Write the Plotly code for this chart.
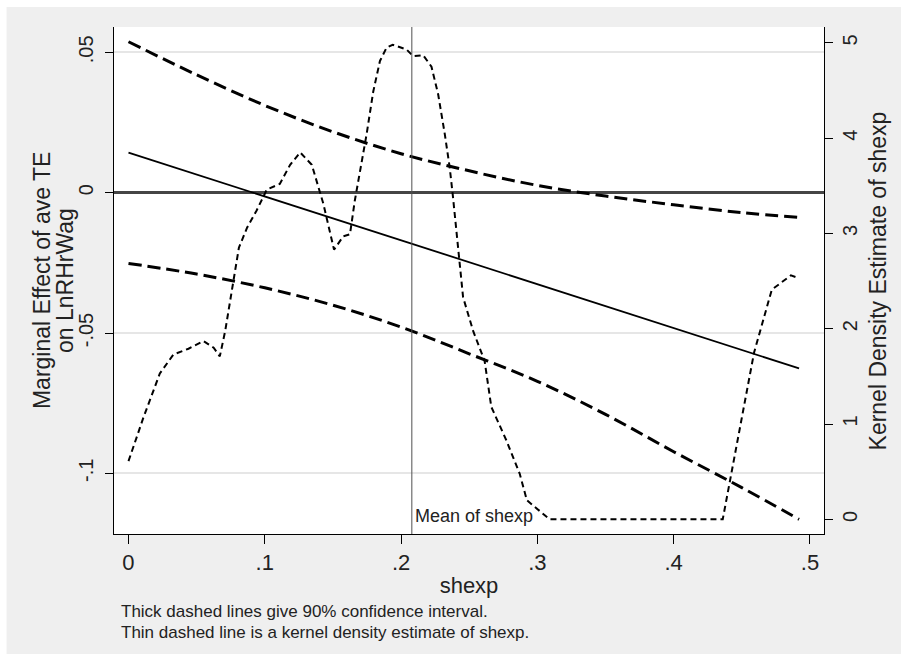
import plotly.graph_objects as go

# ---- data ----
ci_x = [0, 0.05, 0.10, 0.15, 0.20, 0.25, 0.30, 0.35, 0.40, 0.45, 0.492]
ci_upper = [0.0538, 0.0420, 0.0311, 0.0217, 0.0139, 0.0078, 0.0026, -0.0012, -0.0043, -0.0071, -0.0088]
ci_lower = [-0.0252, -0.0290, -0.0339, -0.0401, -0.0479, -0.0574, -0.0672, -0.0790, -0.0923, -0.1051, -0.1164]

me_x = [0, 0.492]
me_y = [0.0143, -0.0626]

dens_x = [0.000, 0.011, 0.023, 0.033, 0.044, 0.055, 0.0625, 0.067, 0.071, 0.076,
          0.081, 0.087, 0.094, 0.1015, 0.111, 0.1186, 0.126, 0.1345, 0.143, 0.1508,
          0.1576, 0.1625, 0.166, 0.1747, 0.1796, 0.1845, 0.1894, 0.1938, 0.204, 0.2089,
          0.2162, 0.2223, 0.2272, 0.2321, 0.2357, 0.2381, 0.243, 0.2455, 0.2528, 0.2613,
          0.2662, 0.2772, 0.287, 0.2923, 0.309, 0.436, 0.459, 0.472, 0.486, 0.492]
dens_y = [0.61, 1.07, 1.53, 1.73, 1.79, 1.87, 1.80, 1.71, 1.98, 2.43,
          2.85, 3.06, 3.24, 3.46, 3.52, 3.72, 3.85, 3.72, 3.31, 2.83,
          2.97, 2.99, 3.34, 4.04, 4.49, 4.81, 4.95, 4.98, 4.93, 4.86,
          4.87, 4.75, 4.46, 4.04, 3.69, 3.38, 2.71, 2.33, 1.98, 1.66,
          1.18, 0.83, 0.48, 0.20, 0.0, 0.0, 1.75, 2.41, 2.56, 2.53]

mean_shexp = 0.2079

x_ticks = [0, 0.1, 0.2, 0.3, 0.4, 0.5]
x_ticktext = ["0", ".1", ".2", ".3", ".4", ".5"]
y_ticks = [-0.1, -0.05, 0, 0.05]
y_ticktext = ["-.1", "-.05", "0", ".05"]
y2_ticks = [0, 1, 2, 3, 4, 5]
y2_ticktext = ["0", "1", "2", "3", "4", "5"]

left_title = ["Marginal Effect of ave TE", "on LnRHrWag"]
right_title = "Kernel Density Estimate of shexp"
notes = ["Thick dashed lines give 90% confidence interval.",
         "Thin dashed line is a kernel density estimate of shexp."]

FONT = "Liberation Sans, Arial, sans-serif"

# plot area in pixels: x 113.5..824, y 27..534
PL, PR, PT, PB = 113.5, 824.0, 27.0, 534.0
def px_x(p):
    return (p - PL) / (PR - PL)
def px_y(p):
    return (PB - p) / (PB - PT)

fig = go.Figure()
fig.add_trace(go.Scatter(x=ci_x, y=ci_upper, mode="lines", line=dict(color="black", width=3, dash="13px,6px", shape="spline"), showlegend=False))
fig.add_trace(go.Scatter(x=ci_x, y=ci_lower, mode="lines", line=dict(color="black", width=3, dash="13px,6px", shape="spline"), showlegend=False))
fig.add_trace(go.Scatter(x=me_x, y=me_y, mode="lines", line=dict(color="black", width=1.8), showlegend=False))
fig.add_trace(go.Scatter(x=dens_x, y=dens_y, mode="lines", yaxis="y2", line=dict(color="black", width=2, dash="6px,4px"), showlegend=False))

fig.add_shape(type="line", xref="x", yref="paper", x0=mean_shexp, x1=mean_shexp, y0=0, y1=1,
              line=dict(color="#505050", width=1))
# white strips at top/left edges of the page
fig.add_shape(type="rect", xref="paper", yref="paper", x0=-0.3, x1=1.3, y0=px_y(7), y1=1.2,
              line=dict(width=0), fillcolor="white", layer="below")
fig.add_shape(type="rect", xref="paper", yref="paper", x0=-0.3, x1=px_x(6), y0=-0.4, y1=1.2,
              line=dict(width=0), fillcolor="white", layer="below")

fig.add_annotation(x=mean_shexp, y=0.012, xref="x", yref="paper", text="Mean of shexp", showarrow=False,
                   xanchor="left", yanchor="bottom", xshift=1, font=dict(size=18, color="#222"))
fig.add_annotation(x=px_x(119), y=px_y(611), xref="paper", yref="paper", text=notes[0],
                   showarrow=False, xanchor="left", yanchor="middle",
                   font=dict(size=17, color="#222"))
fig.add_annotation(x=px_x(119), y=px_y(633), xref="paper", yref="paper", text=notes[1],
                   showarrow=False, xanchor="left", yanchor="middle",
                   font=dict(size=17, color="#222"))

# axis titles
fig.add_annotation(x=px_x(41), y=0.5, xref="paper", yref="paper", text=left_title[0], textangle=-90,
                   showarrow=False, xanchor="center", yanchor="middle", font=dict(size=23, color="#222"))
fig.add_annotation(x=px_x(64), y=0.5, xref="paper", yref="paper", text=left_title[1], textangle=-90,
                   showarrow=False, xanchor="center", yanchor="middle", font=dict(size=23, color="#222"))
fig.add_annotation(x=px_x(878), y=0.5, xref="paper", yref="paper", text=right_title, textangle=-90,
                   showarrow=False, xanchor="center", yanchor="middle", font=dict(size=23, color="#222"))

fig.update_layout(
    width=901, height=654,
    margin=dict(l=PL, r=901 - PR, t=PT, b=654 - PB),
    paper_bgcolor="#efefef", plot_bgcolor="white",
    font=dict(family=FONT, color="#222"),
    xaxis=dict(range=[-0.01063, 0.5103], tickvals=x_ticks, ticktext=x_ticktext,
               showgrid=False, zeroline=False, showline=True, linecolor="black", linewidth=1,
               ticks="outside", ticklen=9, tickcolor="black",
               tickfont=dict(size=22),
               title=dict(text="shexp", font=dict(size=22), standoff=3)),
    yaxis=dict(range=[-0.12163, 0.05905], tickvals=y_ticks, ticktext=y_ticktext, tickangle=-90,
               showgrid=True, gridcolor="#e6e6e6", gridwidth=2,
               zeroline=True, zerolinecolor="#454545", zerolinewidth=3,
               showline=True, linecolor="black", linewidth=1,
               ticks="outside", ticklen=8, tickcolor="black", ticklabelstandoff=4,
               tickfont=dict(size=20)),
    yaxis2=dict(range=[-0.154, 5.166], tickvals=y2_ticks, ticktext=y2_ticktext, tickangle=-90,
                overlaying="y", side="right", showgrid=False, zeroline=False,
                showline=True, linecolor="black", linewidth=1,
                ticks="outside", ticklen=8, tickcolor="black",
                tickfont=dict(size=20)),
)

fig.write_html("out.html")
